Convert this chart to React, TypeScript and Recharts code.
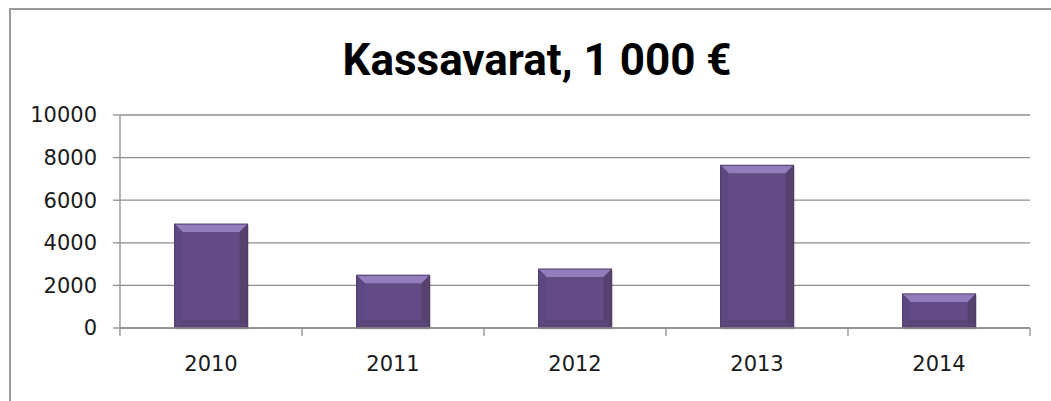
import React from "react";
import { BarChart, Bar, XAxis, YAxis, CartesianGrid } from "recharts";

const years = ["2010", "2011", "2012", "2013", "2014"];
const kassavarat = [4880, 2480, 2770, 7640, 1600];
const yTicks = [0, 2000, 4000, 6000, 8000, 10000];

const data = years.map((year, i) => ({ year, value: kassavarat[i] }));

const AXIS_GRAY = "#8e8e8e";
const LABEL_FONT = "'DejaVu Sans', sans-serif";
const X_TICK_MARGIN = 28;

// bevelled bar like the old Excel style
const BevelBar = (props: any) => {
  const { x, y, width, height } = props;
  if (!height || height <= 0) return null;
  const b = Math.min(8, height / 3);
  return (
    <g>
      <rect x={x + 1.5} y={y + 1.5} width={width} height={height} fill="#000" opacity={0.12} />
      <rect x={x} y={y} width={width} height={height} fill="#634c85" />
      {/* top bevel */}
      <polygon
        points={`${x},${y} ${x + width},${y} ${x + width - b},${y + b} ${x + b},${y + b}`}
        fill="#947dbd"
      />
      {/* left bevel */}
      <polygon
        points={`${x},${y} ${x + b},${y + b} ${x + b},${y + height - b} ${x},${y + height}`}
        fill="#5e4881"
      />
      {/* right bevel */}
      <polygon
        points={`${x + width},${y} ${x + width - b},${y + b} ${x + width - b},${y + height - b} ${x + width},${y + height}`}
        fill="#57426f"
      />
      {/* bottom bevel */}
      <polygon
        points={`${x},${y + height} ${x + b},${y + height - b} ${x + width - b},${y + height - b} ${x + width},${y + height}`}
        fill="#5a4478"
      />
      <rect x={x} y={y} width={width} height={height} fill="none" stroke="#4b3a63" strokeWidth={1} />
    </g>
  );
};

// year label plus Excel-style tick marks between categories
const YearTick = (props: any) => {
  const { x, y, payload, index, width, visibleTicksCount } = props;
  const band = width / (visibleTicksCount || years.length);
  const axisY = y - X_TICK_MARGIN;
  const left = x - band / 2;
  const right = x + band / 2;
  return (
    <g>
      <line x1={left} y1={axisY} x2={left} y2={axisY + 8} stroke={AXIS_GRAY} strokeWidth={1.3} />
      {index === (visibleTicksCount || years.length) - 1 && (
        <line x1={right} y1={axisY} x2={right} y2={axisY + 8} stroke={AXIS_GRAY} strokeWidth={1.3} />
      )}
      <text
        x={x}
        y={y}
        dy="0.71em"
        textAnchor="middle"
        fontFamily={LABEL_FONT}
        fontSize={21}
        fill="#1a1a1a"
      >
        {payload.value}
      </text>
    </g>
  );
};

export default function App() {
  return (
    <div style={{ position: "absolute", left: 0, top: 0, width: 1051, height: 401, overflow: "hidden", background: "#fff" }}>
      <div
        style={{
          position: "absolute",
          left: 9,
          top: 8,
          width: 1100,
          height: 450,
          border: "2px solid #9a9a9a",
        }}
      />
      <div
        style={{
          position: "absolute",
          left: 0,
          top: 32,
          width: 1074,
          textAlign: "center",
          fontFamily: "Roboto, sans-serif",
          fontWeight: 700,
          fontSize: 44,
          lineHeight: "56px",
          color: "#000",
        }}
      >
        Kassavarat, 1 000 €
      </div>
      <div style={{ position: "absolute", left: 0, top: 0 }}>
        <BarChart
          width={1051}
          height={401}
          data={data}
          margin={{ top: 115, right: 21, bottom: 0, left: 0 }}
          barCategoryGap="30%"
        >
          <CartesianGrid vertical={false} stroke={AXIS_GRAY} strokeWidth={1.3} />
          <XAxis
            dataKey="year"
            height={73}
            interval={0}
            tickLine={false}
            axisLine={{ stroke: AXIS_GRAY, strokeWidth: 1.3 }}
            tickSize={0}
            tickMargin={X_TICK_MARGIN}
            tick={<YearTick />}
          />
          <YAxis
            width={120}
            domain={[0, 10000]}
            ticks={yTicks}
            interval={0}
            tickSize={7}
            tickMargin={16}
            tickLine={{ stroke: AXIS_GRAY, strokeWidth: 1.3 }}
            axisLine={{ stroke: AXIS_GRAY, strokeWidth: 1.3 }}
            tick={{ fontFamily: LABEL_FONT, fontSize: 21, fill: "#1a1a1a" }}
          />
          <Bar dataKey="value" shape={<BevelBar />} isAnimationActive={false} />
        </BarChart>
      </div>
    </div>
  );
}
